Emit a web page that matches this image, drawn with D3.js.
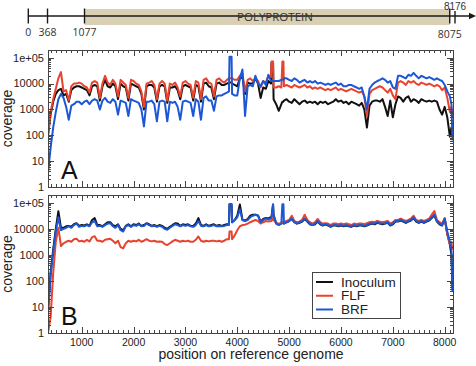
<!DOCTYPE html>
<html>
<head>
<meta charset="utf-8">
<script src="https://cdn.jsdelivr.net/npm/d3@7"></script>
<style>
html, body { margin: 0; padding: 0; background: #fff; }
svg { display: block; font-family: "Liberation Sans", Arial, Helvetica, sans-serif; }
</style>
</head>
<body>
<svg id="chart" width="476" height="366"></svg>
<script>
var positions = [350,400,450,500,550,600,650,700,750,800,
	850,900,950,1000,1050,1100,1150,1200,1250,1300,
	1350,1400,1450,1500,1550,1600,1650,1700,1750,1800,
	1850,1900,1950,2000,2050,2100,2150,2200,2250,2300,
	2350,2400,2450,2500,2550,2600,2650,2700,2750,2800,
	2850,2900,2950,3000,3050,3100,3150,3200,3250,3300,
	3350,3400,3450,3500,3550,3600,3650,3700,3750,3800,
	3840,3850,3890,
	3900,3950,4000,4050,4100,4150,4200,4250,4300,4350,4400,4450,4500,4550,4600,4650,
	4660,4690,
	4700,4750,4800,4850,
	4870,4890,
	4900,4950,5000,5050,5100,5150,5200,5250,5300,5350,
	5400,5450,5500,5550,5600,5650,5700,5750,5800,5850,
	5900,5950,6000,6050,6100,6150,6200,6250,6300,6350,
	6400,6450,6500,6550,6600,6650,6700,6750,6800,6850,
	6900,6950,7000,7050,7100,7150,7200,7250,7300,7350,
	7400,7450,7500,7550,7600,7650,7700,7750,7800,7850,
	7900,7950,8000,8050,8100,
	8130,8150];

// panel A
var aInoculum = [100,630,2000,4000,5600,6300,3500,4000,2000,5600,
	7100,7900,7900,7100,6300,5600,3500,7900,8900,7900,
	2200,7900,14000,7900,7100,10000,7900,2500,10000,7900,
	7100,2200,10000,8900,7900,7100,4000,1000,7900,8900,
	8900,7100,2000,7900,8900,7900,1800,7100,7100,7900,
	5600,2500,7900,8900,7900,7100,2200,8900,7900,2000,
	10000,11000,7900,7100,2500,10000,11000,8900,8900,10000,
	11000,11000,11000,
	10000,8900,7900,16000,18000,4000,11000,10000,10000,16000,10000,2800,7100,6300,12600,10000,
	63000,63000,
	2500,1600,890,1600,
	2000,2000,
	2200,2500,2000,1800,2500,2000,1600,2000,2200,1800,
	2000,1800,2000,1600,2000,1800,2000,1600,1800,2000,
	2500,2000,2200,1800,2000,1600,2000,1800,1600,1400,
	1800,1000,200,1400,2000,2200,2200,2000,2500,1260,
	560,2200,500,1600,3200,2800,2000,2800,3200,2000,
	2500,2200,1800,2500,2200,2000,2200,2000,2200,2000,
	1000,630,1260,500,89,
	200,100];

var aFLF = [100,790,2500,6300,16000,28000,5000,5600,2200,7900,
	10000,10000,11000,10000,7900,7100,4500,11000,12600,11000,
	2800,10000,20000,11000,8900,14000,10000,3200,14000,11000,
	8900,2800,14000,12600,10000,8900,5000,1260,10000,11000,
	12600,8900,2500,10000,12600,10000,2200,10000,8900,11000,
	7100,3200,11000,12600,10000,8900,2800,12600,11000,2500,
	14000,16000,11000,10000,3200,14000,16000,12600,11000,14000,
	16000,16000,16000,
	16000,14000,14000,20000,25000,5000,14000,16000,12600,16000,12600,7100,12600,11000,20000,18000,
	71000,71000,
	7100,7100,7900,7100,
	71000,71000,
	7900,8900,7900,7100,8900,7900,7100,7900,8900,7100,
	7900,6300,7100,6300,7100,6300,5600,6300,5600,6300,
	7100,5600,6300,5600,5000,5600,6300,5600,5000,4500,
	5000,3200,560,4000,5600,6300,7100,7900,7100,5600,
	4500,6300,3500,2500,11000,12600,11000,8900,12600,11000,
	12600,10000,8900,11000,10000,8900,10000,8900,7900,8900,
	7900,5600,7100,2800,790,
	1260,500];

var aBRF = [3.5,32,200,790,2500,4000,2800,1260,400,1400,
	1600,2000,2000,1600,2000,2200,1600,2200,2500,2200,
	1000,2200,2800,2000,1800,2500,2000,630,2200,2000,
	1800,560,2500,2200,2000,1800,1000,220,2000,2000,
	2200,1600,350,2000,2200,2000,350,2000,1800,2000,
	1260,400,2000,2200,2000,1800,560,2500,2000,400,
	2800,3200,2200,2200,890,3200,3500,3500,4000,4500,
	5000,110000,110000,
	4000,3500,3500,16000,35000,560,7900,8900,7900,20000,10000,7900,12600,8900,22000,12600,
	12600,12600,
	12600,12600,12600,14000,
	14000,14000,
	16000,16000,14000,12600,16000,14000,11000,12600,14000,11000,
	12600,11000,12600,10000,11000,10000,8900,10000,8900,10000,
	11000,8900,10000,7900,7900,8900,8900,7900,7100,6300,
	7100,3200,1000,6300,8900,11000,12600,14000,16000,14000,
	11000,12600,7100,6300,20000,20000,18000,16000,22000,20000,
	26000,20000,16000,20000,18000,16000,18000,16000,14000,16000,
	14000,12600,8900,5000,3200,
	1600,63];

// panel B
var bInoculum = [8,200,1600,10000,48000,11000,11000,12600,13000,12000,
	15000,16500,13000,14000,13500,15000,13000,22000,26000,14000,
	14000,12600,15000,18000,18000,14000,12600,15000,10000,8900,
	13000,15000,12600,15000,14000,16000,13000,14000,16500,15000,
	13000,14000,12600,14000,13000,11000,10000,12000,14000,16500,
	16000,13000,15000,14000,15000,13000,13000,16000,26000,14000,
	13000,15000,13000,14000,15000,13000,14000,13000,14000,15000,
	15000,89000,89000,
	18000,22000,32000,87000,22000,21000,23500,32000,35000,35000,33000,19000,24000,26000,25000,28000,
	28000,87000,
	35000,16500,15000,16000,
	18000,18000,
	16000,18000,20000,24000,18000,16000,17000,19000,24000,19000,
	15000,14000,15000,19000,15000,13500,14500,13500,12000,13500,
	13500,12600,13500,12600,13500,12600,12000,13500,12600,13500,
	13500,12600,13500,15000,16000,15000,17000,16000,15000,16000,
	17000,13500,15000,19000,19000,21000,19000,17000,19000,21000,
	26000,19000,17000,19000,17000,19000,21000,26000,33000,19000,
	15000,13500,24000,6300,2500,
	1000,50];

var bFLF = [1,4,200,3200,11000,2200,2800,3200,3500,3200,
	4000,4200,3300,3500,3200,3800,3300,4800,5200,3500,
	3500,3200,3800,4000,4200,3500,2800,3500,2000,1800,
	2800,3500,3200,3500,3300,3800,3200,3500,4000,3500,
	3300,3500,3200,3300,3200,2600,2400,2800,3300,3800,
	3500,3200,3500,3300,3500,3200,3200,3800,5100,3500,
	3200,3500,3300,3500,3500,3300,3500,3200,3500,4000,
	4000,7900,7900,
	4000,5600,8900,12600,14000,14500,16000,18000,20000,22000,20000,16000,18000,20000,19000,20000,
	20000,25000,
	22000,16500,16000,16500,
	18000,18000,
	18000,20000,22000,32000,20000,18000,19000,22000,35000,22000,
	18000,16000,18000,24000,18000,16000,16500,16000,14000,16000,
	16000,15000,16000,15000,16000,15000,14000,16000,15000,16000,
	16000,15000,16500,18000,19000,18000,20000,19000,18000,19000,
	20000,16000,18000,22000,22000,25000,22000,20000,22000,25000,
	32000,22000,20000,22000,20000,22000,25000,35000,48000,22000,
	18000,16000,26000,6300,2500,
	3200,1600];

var bBRF = [6,160,1260,7900,28000,8900,10000,11000,12600,11000,
	14000,16000,12000,13000,12600,14000,12600,18000,20000,12600,
	13000,12000,14000,16000,16500,12600,11000,14000,8900,7900,
	12600,14000,12000,14000,13000,15000,12600,13000,16000,14000,
	12600,13000,12000,13000,12000,10000,9300,11000,13000,15000,
	14000,12600,14000,13000,14000,12600,12000,14000,20000,13000,
	12600,14000,12600,13000,14000,12600,13000,12600,13000,14000,
	14000,89000,89000,
	18000,22000,28000,56000,22000,20000,22000,28000,32000,35000,32000,18000,22000,25000,23000,25000,
	28000,87000,
	32000,16000,14000,16000,
	89000,89000,
	16000,18000,20000,25000,18000,16000,18000,20000,25000,20000,
	16000,14000,16000,20000,16000,14000,15000,14000,12600,14000,
	14000,13000,14000,13000,14000,13000,12600,14000,13000,14000,
	14000,13000,14000,16000,16500,16000,18000,16500,16000,16500,
	18000,14000,16000,20000,20000,22000,20000,18000,20000,22000,
	28000,20000,18000,20000,18000,20000,22000,28000,35000,20000,
	16000,14000,25000,7900,3200,
	1600,40];

var seriesNames = ["Inoculum", "FLF", "BRF"];
var seriesColors = ["#111111", "#e8432e", "#1c57d6"];

var xTicks = [1000, 2000, 3000, 4000, 5000, 6000, 7000, 8000];
var yTicks = [1, 10, 100, 1000, 10000, 100000];
var yTickLabels = ["1", "10", "100", "1000", "10000", "1e+05"];

// genome map on top
var genomeMarks = [0, 368, 1077, 8075, 8176];
var polyprotein = [1077, 8075];

var svg = d3.select("#chart");
var frameColor = "#444";

var x = d3.scaleLinear().domain([350, 8160]).range([48, 453]);

// ---- genome map ----
var gx = d3.scaleLinear().domain([0, 8176]).range([28.3, 455]);
var map = svg.append("g").style("font-family", "'Open Sans', 'Liberation Sans', sans-serif");

map.append("rect")
	.attr("x", gx(polyprotein[0]))
	.attr("y", 9)
	.attr("width", gx(polyprotein[1]) - gx(polyprotein[0]))
	.attr("height", 16)
	.style("fill", "#d9cfb2");

map.append("line")
	.attr("x1", gx(0)).attr("x2", 471)
	.attr("y1", 16).attr("y2", 16)
	.style("stroke", "#1a1a1a").style("stroke-width", 1.4);

map.append("path")
	.attr("d", "M476,16 L469,12.8 L469,19.2 Z")
	.style("fill", "#1a1a1a");

map.selectAll(".gtick")
	.data(genomeMarks)
	.enter().append("line")
	.attr("class", "gtick")
	.attr("x1", function(d){ return gx(d); })
	.attr("x2", function(d){ return gx(d); })
	.attr("y1", function(d){ return d == 8176 ? 11 : 8.5; })
	.attr("y2", 23.5)
	.style("stroke", "#1a1a1a").style("stroke-width", 1.4);

map.selectAll(".glabel")
	.data(genomeMarks)
	.enter().append("text")
	.attr("class", "glabel")
	.attr("x", function(d){ return gx(d); })
	.attr("y", function(d){
		if(d == 8176) return 9.8;
		if(d == 8075) return 38;
		return 36;
	})
	.attr("text-anchor", "middle")
	.style("font-family", function(d){ return d == 8176 ? "'Liberation Sans', Arial, sans-serif" : null; })
	.style("font-size", function(d){ return d == 8176 ? "10px" : "10.5px"; })
	.style("fill", "#333")
	.text(function(d){ return d; });

map.append("text")
	.attr("x", 275)
	.attr("y", 20.8)
	.attr("text-anchor", "middle")
	.style("font-size", "11.5px")
	.style("fill", "#333")
	.text("POLYPROTEIN");

// ---- coverage panels ----
var panels = [
	{label: "A", top: 50, bottom: 187, data: [aInoculum, aFLF, aBRF], xLabels: false},
	{label: "B", top: 195, bottom: 333, data: [bInoculum, bFLF, bBRF], xLabels: true}
];

var minorY = [];
for (var d = 0; d <= 5; d++) {
	for (var m = 2; m <= 9; m++) {
		var v = m * Math.pow(10, d);
		if (v <= 2e5) minorY.push(v);
	}
}
var minorX = [];
for (var v = 400; v <= 8100; v += 100) {
	if (v % 1000 != 0) minorX.push(v);
}

panels.forEach(function(p, pi){
	var y = d3.scaleLog().domain([1, 2e5]).range([p.bottom, p.top]);
	var g = svg.append("g");
	var left = x.range()[0], right = x.range()[1];

	g.append("clipPath").attr("id", "clip" + pi)
		.append("rect")
		.attr("x", left).attr("y", p.top)
		.attr("width", right - left).attr("height", p.bottom - p.top);

	var line = d3.line()
		.x(function(d, i){ return x(positions[i]); })
		.y(function(d){ return y(d); });

	var lines = g.append("g").attr("clip-path", "url(#clip" + pi + ")");
	p.data.forEach(function(vals, si){
		lines.append("path")
			.datum(vals)
			.attr("d", line)
			.style("fill", "none")
			.style("stroke", seriesColors[si])
			.style("stroke-width", 2)
			.style("stroke-linejoin", "round");
	});

	// frame
	g.append("rect")
		.attr("x", left + 0.5).attr("y", p.top + 0.5)
		.attr("width", right - left).attr("height", p.bottom - p.top)
		.style("fill", "none").style("stroke", frameColor).style("stroke-width", 1);

	var ticks = g.append("g").style("stroke", frameColor).style("stroke-width", 1)
		.attr("shape-rendering", "crispEdges");

	function xTick(v, len){
		var px = Math.round(x(v)) + 0.5;
		ticks.append("line").attr("x1", px).attr("x2", px)
			.attr("y1", p.bottom).attr("y2", p.bottom - len);
		ticks.append("line").attr("x1", px).attr("x2", px)
			.attr("y1", p.top).attr("y2", p.top + len);
	}
	function yTick(v, len){
		var py = Math.round(y(v)) + 0.5;
		ticks.append("line").attr("x1", left).attr("x2", left + len)
			.attr("y1", py).attr("y2", py);
		ticks.append("line").attr("x1", right).attr("x2", right - len)
			.attr("y1", py).attr("y2", py);
	}
	xTicks.forEach(function(v){ xTick(v, 6); });
	minorX.forEach(function(v){ xTick(v, 3); });
	yTicks.forEach(function(v){ yTick(v, 6); });
	minorY.forEach(function(v){ yTick(v, 3); });

	// y tick labels
	g.selectAll(".ylab")
		.data(yTicks)
		.enter().append("text")
		.attr("class", "ylab")
		.attr("x", 44)
		.attr("y", function(d){ return y(d); })
		.attr("dy", "0.35em")
		.attr("text-anchor", "end")
		.style("font-size", "11px")
		.style("fill", "#222")
		.text(function(d, i){ return yTickLabels[i]; });

	g.append("text")
		.attr("transform", "translate(11.5," + ((p.top + p.bottom) / 2) + ") rotate(-90)")
		.attr("text-anchor", "middle")
		.style("font-size", "14px")
		.style("fill", "#222")
		.text("coverage");

	g.append("text")
		.attr("x", 61)
		.attr("y", p.bottom - 8.5)
		.style("font-size", "25px")
		.style("fill", "#111")
		.text(p.label);

	if (p.xLabels) {
		g.selectAll(".xlab")
			.data(xTicks)
			.enter().append("text")
			.attr("class", "xlab")
			.attr("x", function(d){ return x(d); })
			.attr("y", 345.5)
			.attr("text-anchor", "middle")
			.style("font-size", "10.5px")
			.style("fill", "#222")
			.text(function(d){ return d; });
	}
});

svg.append("text")
	.attr("x", 251)
	.attr("y", 359)
	.attr("text-anchor", "middle")
	.style("font-size", "14px")
	.style("fill", "#222")
	.text("position on reference genome");

// ---- legend ----
var legend = svg.append("g");
legend.append("rect")
	.attr("x", 312.5).attr("y", 272.5)
	.attr("width", 88).attr("height", 46)
	.style("fill", "#fff").style("stroke", frameColor).style("stroke-width", 1);

var legendRow = d3.scaleLinear().domain([0, 2]).range([282, 309.5]);
seriesNames.forEach(function(name, i){
	legend.append("line")
		.attr("x1", 316).attr("x2", 333)
		.attr("y1", legendRow(i)).attr("y2", legendRow(i))
		.style("stroke", seriesColors[i]).style("stroke-width", 2);
	legend.append("text")
		.attr("x", 341)
		.attr("y", legendRow(i))
		.attr("dy", "0.35em")
		.style("font-size", "13.5px")
		.style("fill", "#222")
		.text(name);
});
</script>
</body>
</html>
